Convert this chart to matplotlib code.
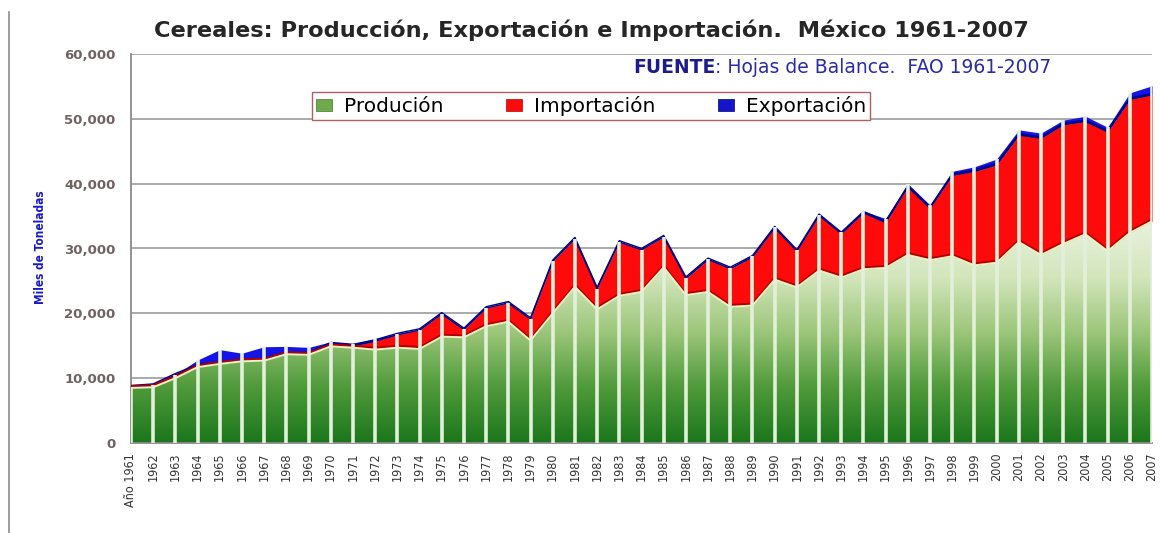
import numpy as np
import matplotlib
matplotlib.use("Agg")
import matplotlib.pyplot as plt
from matplotlib.colors import LinearSegmentedColormap
from matplotlib.patches import Patch
from matplotlib.lines import Line2D
import matplotlib.patheffects as pe
from matplotlib import font_manager as fm

# Miles de toneladas (FAO, Hojas de Balance)
years = list(range(1961, 2008))
produccion = [8500, 8600, 10000, 11700, 12200, 12600, 12700, 13700, 13600, 14900,
              14700, 14400, 14700, 14500, 16400, 16300, 18000, 18700, 15800, 20000,
              24100, 20600, 22700, 23300, 27100, 22800, 23300, 21000, 21200, 25200,
              24000, 26600, 25500, 26800, 27000, 29000, 28200, 28800, 27400, 27800,
              31000, 29000, 30700, 32200, 29600, 32400, 34200]
importacion = [150, 300, 500, 200, 100, 50, 50, 50, 150, 400,
               300, 1300, 2000, 2900, 3500, 1200, 2800, 2900, 3300, 8000,
               7400, 3200, 8300, 6500, 4700, 2600, 5000, 5900, 7500, 8000,
               5600, 8500, 6800, 8700, 7000, 10500, 8000, 12500, 14500, 15100,
               16500, 18000, 18400, 17400, 18400, 20600, 19500]
exportacion = [0, 0, 50, 900, 2100, 1200, 2100, 1150, 1000, 300,
               300, 400, 100, 50, 30, 30, 30, 30, 30, 30,
               30, 30, 30, 30, 30, 50, 100, 150, 200, 100,
               100, 100, 200, 300, 600, 500, 500, 600, 700, 900,
               800, 800, 700, 800, 700, 1000, 1400]
xlabels = ["Año 1961"] + [str(y) for y in years[1:]]
yticks = [0, 10000, 20000, 30000, 40000, 50000, 60000]

names = {f.name for f in fm.fontManager.ttflist}
NARROW = "Liberation Sans Narrow" if "Liberation Sans Narrow" in names else "DejaVu Sans"

x = np.array(years)
s1 = np.array(produccion, float)
s2 = s1 + np.array(importacion)
s3 = s2 + np.array(exportacion)

fig = plt.figure(figsize=(11.6, 5.33), dpi=100)
W, H = 1160, 533
ax = fig.add_axes([131 / W, 1 - 443 / H, 1021 / W, 389 / H])

# produccion: degradado verde recortado al area
gpoly = ax.fill_between(x, 0, s1, facecolor="none", edgecolor="none", zorder=2)
cmap = LinearSegmentedColormap.from_list("g", ["#1b761b", "#4f9a3a", "#9cc67a", "#d3e6bc", "#e9f2de"])
grad = np.linspace(0, 1, 256).reshape(-1, 1)
im = ax.imshow(grad, extent=[x[0], x[-1], 0, s1.max()], origin="lower", aspect="auto",
               cmap=cmap, zorder=2, interpolation="bicubic")
im.set_clip_path(gpoly.get_paths()[0], ax.transData)

ax.fill_between(x, s1, s2, color="#ff0a0a", lw=0, zorder=3)
ax.fill_between(x, s2, s3, color="#1414e6", lw=0, zorder=3)
ax.plot(x, s2, color="#00006e", lw=1.0, zorder=4,
        path_effects=[pe.SimpleLineShadow(offset=(0, 1), shadow_color="#00009a", alpha=1), pe.Normal()])
ax.plot(x, s1, color="#eef4c4", lw=1.4, zorder=4,
        path_effects=[pe.SimpleLineShadow(offset=(0, 1.4), shadow_color="#b00000", alpha=1), pe.Normal()])
# lineas verticales en cada anio
ax.vlines(x, 0, s3, colors="#e2f0da", lw=2.6, zorder=5)

ax.set_xlim(x[0], x[-1])
ax.set_ylim(0, 60000)
ax.set_yticks(yticks)
ax.set_yticklabels([f"{v:,}" for v in yticks])
ax.set_xticks(x)
ax.set_xticklabels(xlabels, rotation=90, fontsize=9, family=NARROW, fontstretch="condensed",
                   color="#333333")
ax.yaxis.grid(True, color="#a4a4a4", lw=1.3)
ax.set_axisbelow(True)
ax.tick_params(axis="y", length=0, pad=11, labelsize=9.5, labelcolor="#6f6262")
ax.tick_params(axis="x", length=0, pad=7)
for t in ax.get_yticklabels():
    t.set_fontweight("bold")
for sp in ("top", "right"):
    ax.spines[sp].set_visible(False)
for sp in ("left", "bottom"):
    ax.spines[sp].set_color("#8a8a8a")
    ax.spines[sp].set_linewidth(1.3)

handles = [Patch(facecolor="#6eaa4c", edgecolor="#3c7a2a", lw=0.5),
           Patch(facecolor="#ff0a0a", edgecolor="#b00000", lw=0.5),
           Patch(facecolor="#1414c8", edgecolor="#00006e", lw=0.5)]
leg = ax.legend(handles, ["Produción", "Importación", "Exportación"], ncol=3, loc="center",
                bbox_to_anchor=(0.4505, 0.866), frameon=True, fancybox=False, framealpha=1,
                edgecolor="#b06060", fontsize=14.5, handlelength=0.8, handleheight=0.55,
                handletextpad=0.6, columnspacing=3.1, borderpad=0.2)
leg.get_frame().set_linewidth(1.0)
leg.set_zorder(10)

fig.text(591 / W, 1 - 30 / H, "Cereales: Producción, Exportación e Importación.  México 1961-2007",
         ha="center", va="center", fontsize=16.2, fontweight="bold", color="#262626")
t1 = fig.text(633 / W, 1 - 77 / H, "FUENTE", ha="left", va="bottom", fontsize=13.5,
              fontweight="bold", color="#1c1c8c")
ax.annotate(": Hojas de Balance.  FAO 1961-2007", xy=(1, 0), xycoords=t1, va="bottom",
            fontsize=13.5, color="#2a2aa8")
fig.text(40 / W, 1 - 247 / H, "Miles de Toneladas", rotation=90, ha="center", va="center",
         fontsize=8.5, fontweight="bold", color="#1a1acc", family=NARROW, fontstretch="condensed")
fig.add_artist(Line2D([9 / W, 9 / W], [1 - 12 / H, 0], transform=fig.transFigure,
                      color="#8c8c8c", lw=1.2))

fig.savefig("out.png", dpi=100)
